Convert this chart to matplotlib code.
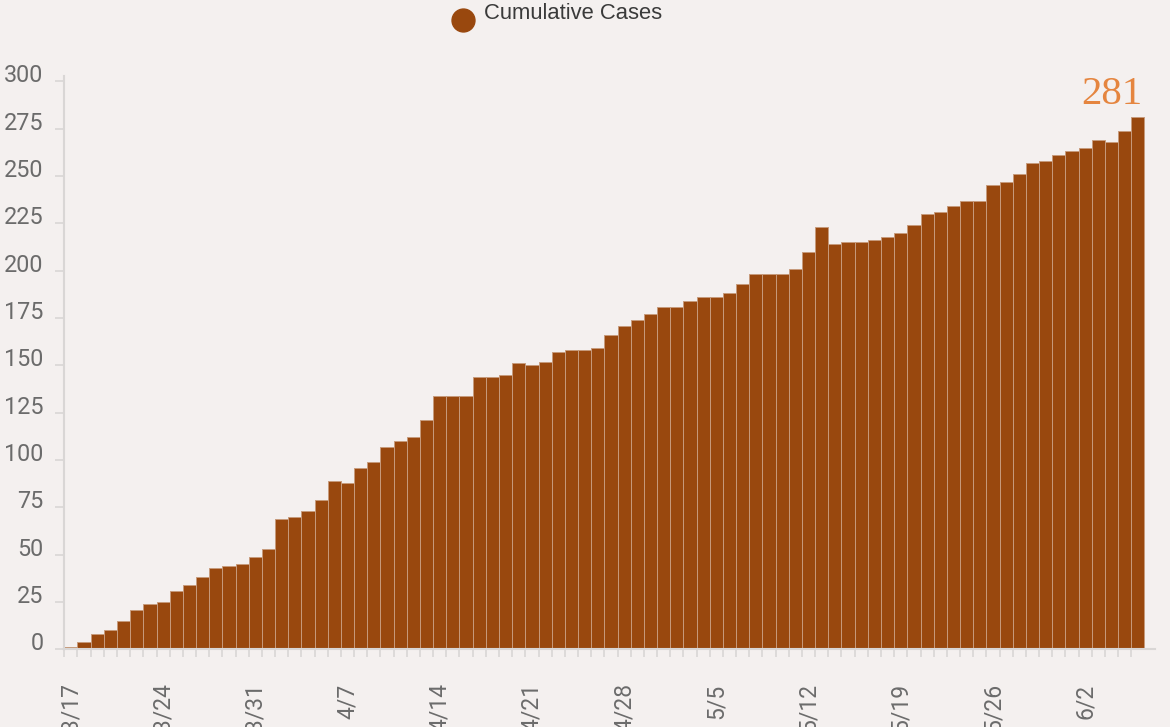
import numpy as np
import pandas as pd
import matplotlib
matplotlib.use("Agg")
import matplotlib.pyplot as plt
import matplotlib.transforms as mtransforms
from matplotlib.lines import Line2D

plt.rcParams['font.family'] = ['Roboto', 'DejaVu Sans']

# daily dates, 3/17 to 6/6
dates = pd.date_range("2020-03-17", "2020-06-06", freq="D")

cumulative_cases = [
    1, 4, 8, 10, 15, 21, 24, 25, 31, 34, 38, 43, 44, 45, 49, 53,
    69, 70, 73, 79, 89, 88, 96, 99, 107, 110, 112, 121, 134, 134, 134,
    144, 144, 145, 151, 150, 152, 157, 158, 158, 159, 166, 171, 174,
    177, 181, 181, 184, 186, 186, 188, 193, 198, 198, 198, 201, 210,
    223, 214, 215, 215, 216, 218, 220, 224, 230, 231, 234, 237, 237,
    245, 247, 251, 257, 258, 261, 263, 265, 269, 268, 274, 281,
]

y_ticks = [0, 25, 50, 75, 100, 125, 150, 175, 200, 225, 250, 275, 300]
label_every = 7

bg = '#f4f0ef'
bar_color = '#99480e'
grey_text = '#6b6b6b'
axis_grey = '#d9d6d5'

fig = plt.figure(figsize=(11.7, 7.27), dpi=100, facecolor=bg)
ax = fig.add_axes([0.05496, 0.1069, 0.9322, 0.7890])
ax.set_facecolor(bg)

x = np.arange(len(dates))
ax.bar(x, cumulative_cases, width=1.0, color=bar_color,
       edgecolor='#c79a7b', linewidth=0.7)

ax.set_xlim(-0.5, 82.3)
ax.set_ylim(0, 303)

# y axis
ax.set_yticks(y_ticks)
ax.set_yticklabels([str(v) for v in y_ticks])
ax.tick_params(axis='y', length=6.5, width=1.2, color=axis_grey, pad=8.5,
               labelsize=16.8, labelcolor=grey_text)
offset = mtransforms.ScaledTranslation(0, 0.08, fig.dpi_scale_trans)
for lab in ax.get_yticklabels():
    lab.set_transform(lab.get_transform() + offset)

# x axis: a small tick per day, a label every week
major = x[::label_every]
ax.set_xticks(major)
ax.set_xticklabels([f"{d.month}/{d.day}" for d in dates[::label_every]],
                   rotation=90)
ax.set_xticks(x - 0.5, minor=True)
ax.tick_params(axis='x', which='major', length=0, pad=24.5,
               labelsize=16.5, labelcolor=grey_text)
ax.tick_params(axis='x', which='minor', length=5.8, width=1.2, color=axis_grey)

for side in ['top', 'right']:
    ax.spines[side].set_visible(False)
for side in ['left', 'bottom']:
    ax.spines[side].set_color(axis_grey)
    ax.spines[side].set_linewidth(1.5)

# last value callout
ax.text(x[-1] + 0.35, cumulative_cases[-1] + 7, str(cumulative_cases[-1]),
        ha='right', va='baseline', fontsize=29.5, color='#e5853f',
        family=['Liberation Serif', 'DejaVu Serif'])

# legend
fig.add_artist(Line2D([463 / 1170], [1 - 20 / 727], marker='o', markersize=16.5,
                      color=bar_color, linestyle='none',
                      transform=fig.transFigure))
fig.text(484 / 1170, 1 - 19 / 727, "Cumulative Cases", ha='left', va='baseline',
         fontsize=15.8, color='#3a3a3a',
         family=['Liberation Sans', 'DejaVu Sans'])

fig.savefig('out.png', dpi=100, facecolor=bg)
